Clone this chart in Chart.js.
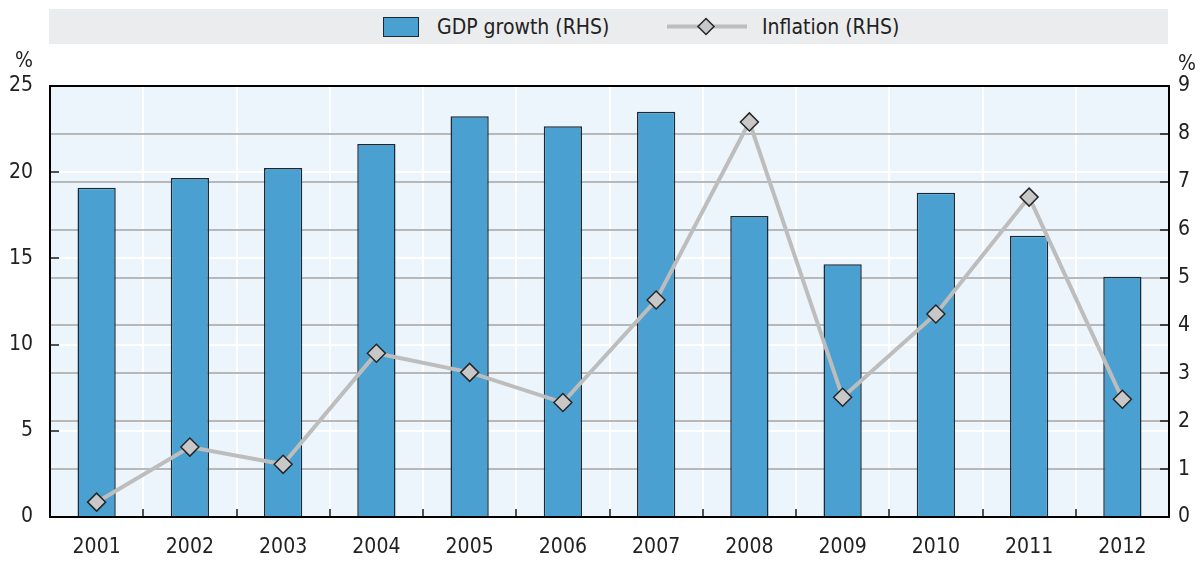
<!DOCTYPE html>
<html>
<head>
<meta charset="utf-8">
<script src="https://cdn.jsdelivr.net/npm/chart.js"></script>
<style>
  body { margin: 0; background: #fff; }
  #wrap { position: relative; width: 1203px; height: 561px; }
  #legend {
    position: absolute; left: 49px; top: 9px; width: 1119px; height: 35px;
    background: #ebeced; color: #222;
    font: 21px "Liberation Sans Narrow", "DejaVu Sans Condensed", "Roboto", sans-serif;
  }
  .item { position: absolute; top: 0; height: 35px; display: flex; align-items: center; }
  .swatch { width: 34px; height: 18px; background: #4aa0d0; border: 1.5px solid #1c2833; }
</style>
</head>
<body>
<div id="wrap">
  <canvas id="chart"></canvas>
  <div id="legend">
    <div class="item" style="left:334px"><div class="swatch"></div></div>
    <div class="item" style="left:388px">GDP growth (RHS)</div>
    <div class="item" style="left:618px">
      <svg width="80" height="35">
        <line x1="0" y1="17.5" x2="80" y2="17.5" stroke="#bdbdbd" stroke-width="4"/>
        <polygon points="39,9.5 47,17.5 39,25.5 31,17.5" fill="#c8c8c8" stroke="#262626" stroke-width="1.5"/>
      </svg>
    </div>
    <div class="item" style="left:713px">Inflation (RHS)</div>
  </div>
</div>
<script>
    const years = ['2001', '2002', '2003', '2004', '2005', '2006', '2007', '2008', '2009', '2010', '2011', '2012'];
    const gdpGrowth = [19.1, 19.66, 20.24, 21.64, 23.24, 22.66, 23.51, 17.46, 14.66, 18.81, 16.32, 13.94];
    const inflation = [0.31, 1.46, 1.1, 3.42, 3.02, 2.39, 4.53, 8.25, 2.5, 4.24, 6.68, 2.46];
    const leftTicks = [0, 5, 10, 15, 20, 25];
    const rightTicks = [0, 1, 2, 3, 4, 5, 6, 7, 8, 9];

    const FONT = '"Liberation Sans Narrow", "DejaVu Sans Condensed", "Roboto", sans-serif';
    const TEXT = '#222';

    // plot background, frame, inward tick marks and the % unit labels
    const frame = {
        id: 'frame',
        beforeDraw(chart) {
            const { ctx, chartArea: a } = chart;
            ctx.save();
            ctx.fillStyle = '#ecf5fb';
            ctx.fillRect(a.left, a.top, a.right - a.left, a.bottom - a.top);
            ctx.restore();
        },
        afterDraw(chart) {
            const { ctx, chartArea: a, scales } = chart;
            ctx.save();
            ctx.strokeStyle = '#1a1a1a';
            ctx.lineWidth = 1.5;
            ctx.beginPath();
            scales.y.ticks.forEach(t => {
                if (t.value <= 0 || t.value >= 25) return;
                const p = Math.round(scales.y.getPixelForValue(t.value));
                ctx.moveTo(a.left, p);
                ctx.lineTo(a.left + 9, p);
            });
            scales.y1.ticks.forEach(t => {
                if (t.value <= 0 || t.value >= 9) return;
                const p = Math.round(scales.y1.getPixelForValue(t.value));
                ctx.moveTo(a.right - 9, p);
                ctx.lineTo(a.right, p);
            });
            for (let i = 1; i < years.length; i++) {
                const p = Math.round(scales.x.getPixelForValue(i - 0.5));
                ctx.moveTo(p, a.bottom);
                ctx.lineTo(p, a.bottom - 8);
            }
            ctx.stroke();

            ctx.strokeStyle = '#000';
            ctx.lineWidth = 2;
            ctx.strokeRect(a.left, a.top, a.right - a.left, a.bottom - a.top);

            ctx.fillStyle = TEXT;
            ctx.font = '21px ' + FONT;
            ctx.textAlign = 'center';
            ctx.textBaseline = 'middle';
            ctx.fillText('%', a.left - 26, a.top - 24);
            ctx.fillText('%', a.right + 18, a.top - 21);
            ctx.restore();
        }
    };

    new Chart(document.getElementById('chart'), {
        type: 'bar',
        data: {
            labels: years,
            datasets: [{
                type: 'line',
                label: 'Inflation (RHS)',
                data: inflation,
                yAxisID: 'y1',
                order: 0,
                borderColor: '#bdbdbd',
                borderWidth: 4,
                pointStyle: 'rectRot',
                pointRadius: 9,
                pointBackgroundColor: '#c8c8c8',
                pointBorderColor: '#262626',
                pointBorderWidth: 1.5,
                tension: 0
            }, {
                label: 'GDP growth (RHS)',
                data: gdpGrowth,
                yAxisID: 'y',
                order: 1,
                backgroundColor: '#4aa0d0',
                borderColor: '#1c2833',
                borderWidth: 1.5,
                barPercentage: 0.41,
                categoryPercentage: 1
            }]
        },
        options: {
            responsive: true,
            maintainAspectRatio: false,
            animation: false,
            layout: { padding: { top: 86, left: 0, right: 0, bottom: 0 } },
            plugins: {
                legend: { display: false },
                tooltip: { enabled: false }
            },
            scales: {
                x: {
                    afterFit: s => { s.height = 44; },
                    grid: { offset: true, color: '#ffffff', lineWidth: 2, drawTicks: false },
                    border: { display: false },
                    ticks: { padding: 18, color: TEXT, font: { family: FONT, size: 21 } }
                },
                y: {
                    position: 'left',
                    min: 0,
                    max: 25,
                    afterBuildTicks: s => { s.ticks = leftTicks.map(v => ({ value: v })); },
                    afterFit: s => { s.width = 50; },
                    grid: { color: '#ffffff', lineWidth: 2, drawTicks: false },
                    border: { display: false },
                    ticks: { padding: 17, color: TEXT, font: { family: FONT, size: 21 } }
                },
                y1: {
                    position: 'right',
                    min: 0,
                    max: 9,
                    afterBuildTicks: s => { s.ticks = rightTicks.map(v => ({ value: v })); },
                    afterFit: s => { s.width = 34; },
                    grid: { color: '#b8b8b8', lineWidth: 2, drawTicks: false },
                    border: { display: false },
                    ticks: { padding: 9, color: TEXT, font: { family: FONT, size: 21 } }
                }
            }
        },
        plugins: [frame]
    });
</script>
</body>
</html>
